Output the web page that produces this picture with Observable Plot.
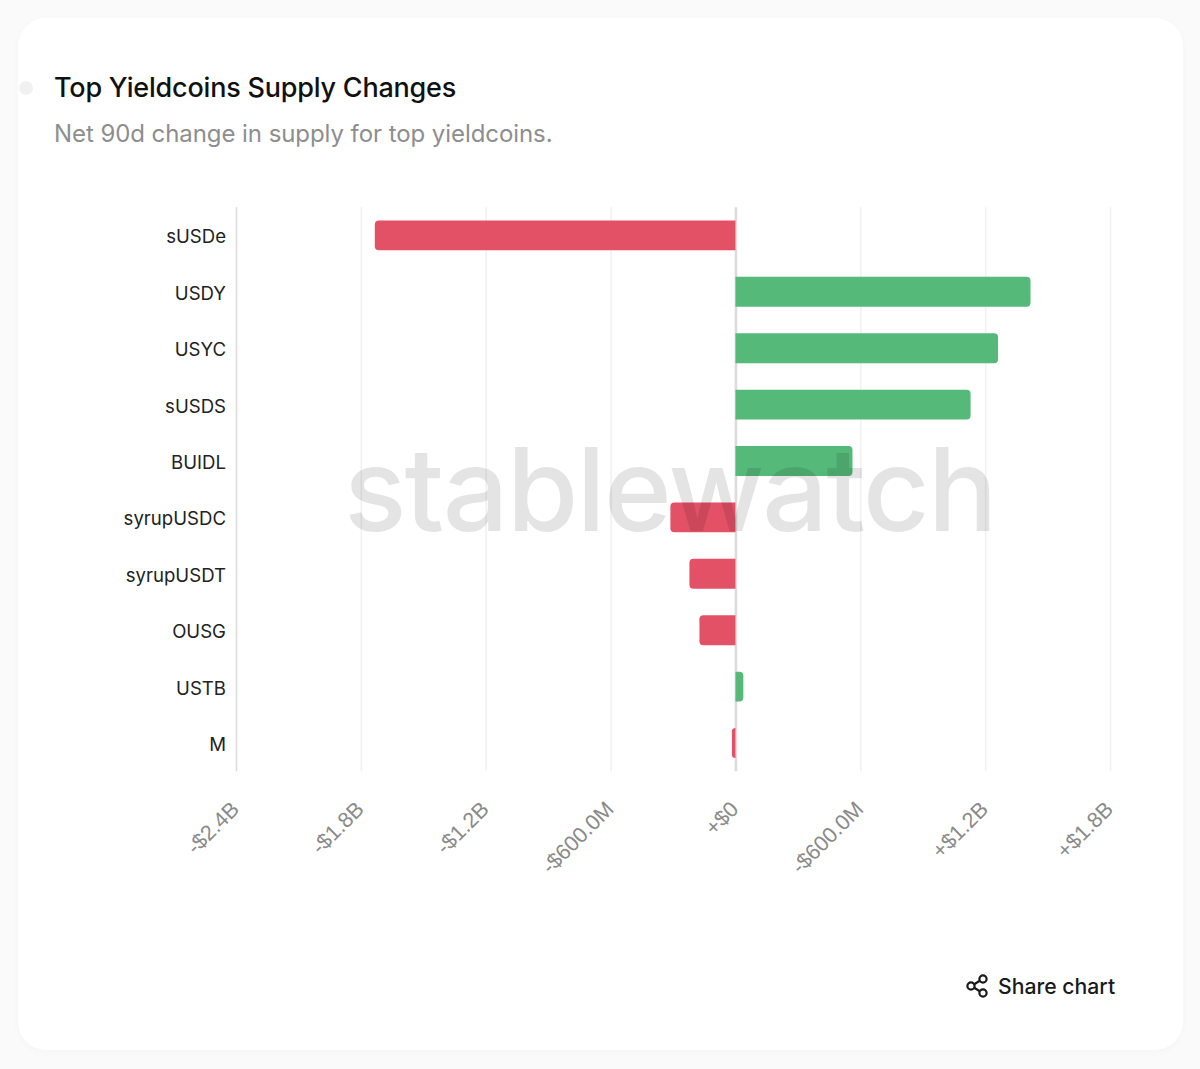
<!DOCTYPE html>
<html>
<head>
<meta charset="utf-8">
<script src="https://cdn.jsdelivr.net/npm/d3@7"></script>
<script src="https://cdn.jsdelivr.net/npm/@observablehq/plot@0.6"></script>
<style>
html,body{margin:0;padding:0;background:#fafafa;width:1200px;height:1069px;overflow:hidden;font-family:Inter,sans-serif}
#card{position:absolute;left:18px;top:18px;width:1165px;height:1032px;background:#fff;border-radius:28px;box-shadow:0 2px 8px rgba(0,0,0,.025)}
#dot{position:absolute;left:19px;top:81px;width:14px;height:14px;border-radius:50%;background:#f1f1f1}
#title{position:absolute;left:54px;top:71px;font-size:27px;font-weight:500;letter-spacing:-.21px;color:#111;white-space:nowrap;line-height:34px}
#subtitle{position:absolute;left:54px;top:119px;font-size:24px;letter-spacing:-.07px;color:#8e8e8e;white-space:nowrap;line-height:30px}
#chart{position:absolute;left:0;top:0}
#chart svg{overflow:visible}
#mark{position:absolute;left:344px;top:419px;font-family:Inter,sans-serif;font-size:116px;font-weight:500;line-height:140px;color:rgba(0,0,0,.105);letter-spacing:-1.9px;white-space:nowrap;pointer-events:none}
#share{position:absolute;left:965px;top:971px;display:flex;align-items:center;gap:9px;font-size:21.2px;font-weight:500;color:#1a1a1a;line-height:30px}
</style>
</head>
<body>
<div id="card"></div>
<div id="dot"></div>
<div id="title">Top Yieldcoins Supply Changes</div>
<div id="subtitle">Net 90d change in supply for top yieldcoins.</div>
<div id="chart"></div>
<div id="mark">stablewatch</div>
<div id="share"><svg width="24" height="24" viewBox="0 0 24 24" fill="none" stroke="#1a1a1a" stroke-width="2.2"><circle cx="6" cy="12" r="3.6"/><circle cx="18" cy="5" r="3.6"/><circle cx="18" cy="19" r="3.6"/><path d="M9.2 10.2 14.8 6.8M9.2 13.8 14.8 17.2"/></svg><span>Share chart</span></div>
<script>
const coins = ["sUSDe","USDY","USYC","sUSDS","BUIDL","syrupUSDC","syrupUSDT","OUSG","USTB","M"];
const changes = [-1.733,1.418,1.262,1.13,0.5625,-0.3125,-0.221,-0.173,0.038,-0.017];
const tickValues = [-2.4,-1.8,-1.2,-0.6,0,0.6,1.2,1.8];
const tickLabels = ["-$2.4B","-$1.8B","-$1.2B","-$600.0M","+$0","-$600.0M","+$1.2B","+$1.8B"];
const rows = coins.map((coin,i)=>({coin,change:changes[i]}));
const up = rows.filter(d=>d.change>=0), down = rows.filter(d=>d.change<0);
const plot = Plot.plot({
  width:1200,height:880,
  marginLeft:236,marginRight:90,marginTop:207.2,marginBottom:108.8,
  style:{background:"transparent",fontFamily:"Inter,sans-serif"},
  x:{domain:[-2.4,1.8],label:null},
  y:{domain:coins,label:null,paddingInner:0.47,paddingOuter:0.235,round:false},
  marks:[
    Plot.ruleX(tickValues.filter(v=>v!==-2.4&&v!==0),{stroke:"#f1f1f1",strokeWidth:1.6}),
    Plot.ruleX([-2.4],{stroke:"#dcdcdc",strokeWidth:1.6}),
    Plot.ruleX([0],{stroke:"#dcdcdc",strokeWidth:2.6}),
    Plot.barX(up,{x1:()=>0,x2:"change",y:"coin",fill:"#55b97a",rx2y1:4,rx2y2:4}),
    Plot.barX(down,{x1:"change",x2:()=>0,y:"coin",fill:"#e35166",rx1y1:4,rx1y2:4}),
    Plot.axisY({tickSize:0,tickPadding:10.5,fontSize:18.6,dy:1.5,color:"#222",label:null}),
    Plot.axisX({ticks:tickValues,tickSize:0,tickRotate:-45,tickPadding:27,fontSize:21.6,dy:7,dx:-1,color:"#8a8a8a",label:null,
      fontFamily:"Liberation Sans",
      tickFormat:v=>tickLabels[tickValues.indexOf(v)]})
  ]
});
document.getElementById("chart").append(plot);
</script>
</body>
</html>
